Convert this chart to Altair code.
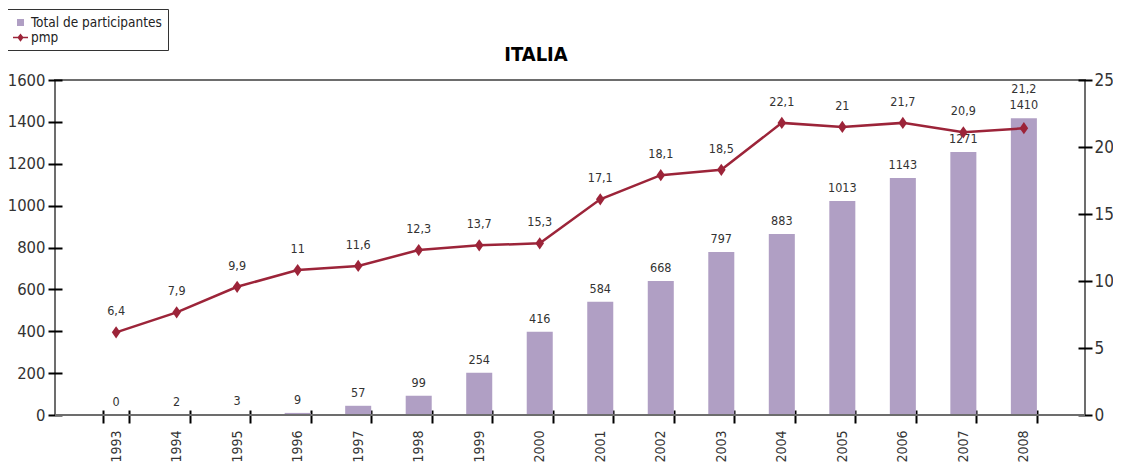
import altair as alt
import pandas as pd

# ---- data ----
years = ["1993", "1994", "1995", "1996", "1997", "1998", "1999", "2000",
         "2001", "2002", "2003", "2004", "2005", "2006", "2007", "2008"]
# bar heights as drawn
total_drawn = [0, 2, 3, 10, 44, 92, 202, 398, 541, 640, 778, 864, 1022, 1132, 1256, 1417]
# bar labels as printed
total_text = ["0", "2", "3", "9", "57", "99", "254", "416", "584", "668", "797",
              "883", "1013", "1143", "1271", "1410"]
# pmp points as drawn (right axis)
pmp_drawn = [6.17, 7.66, 9.57, 10.82, 11.12, 12.31, 12.66, 12.81, 16.1, 17.9,
             18.3, 21.8, 21.5, 21.8, 21.1, 21.4]
# pmp labels as printed
pmp_text = ["6,4", "7,9", "9,9", "11", "11,6", "12,3", "13,7", "15,3", "17,1",
            "18,1", "18,5", "22,1", "21", "21,7", "20,9", "21,2"]

series = ["Total de participantes", "pmp"]

FONT = "DejaVu Sans Condensed"
PURPLE = "#b09fc4"
RED = "#9c2439"
TXT = "#333333"
AXISGRAY = "#6d6d6d"

DIAMOND = "M0,-1L0.7,0L0,1L-0.7,0Z"
SQ = "M-0.47,-0.47H0.47V0.47H-0.47Z"
LD = "M-1,-0.09H1V0.09H-1Z M0,-0.55L0.42,0L0,0.55L-0.42,0Z"

df = pd.DataFrame({
    "anio": years,
    "total": total_drawn,
    "total_txt": total_text,
    "pmp": pmp_drawn,
    "pmp_txt": pmp_text,
})
df["serie"] = series[0]
# keep pmp labels clear of the bar labels
df["pmp_label_y"] = [max(p + 1.57, t * 25 / 1600 + 2.16) for p, t in zip(pmp_drawn, total_drawn)]

base = alt.Chart(df)

x_enc = alt.X(
    "anio:O", title=None, sort=years,
    scale=alt.Scale(paddingInner=0.57, paddingOuter=0.795),
    axis=alt.Axis(labelAngle=-90, tickBand="extent", domain=False,
                  tickColor="black", tickWidth=2, tickSize=13, offset=-5,
                  labelPadding=7, labelFont=FONT, labelFontSize=14,
                  labelColor=TXT),
)
x_plain = alt.X("anio:O", sort=years)

legend = alt.Legend(
    title=None, orient="none", legendX=-48, legendY=-71, padding=6,
    strokeColor="#333333", fillColor="white",
    labelFont=FONT, labelFontSize=13.5, labelColor="#222222",
    symbolSize=225, labelOffset=3, rowPadding=1, symbolStrokeWidth=0,
    symbolType=alt.ExprRef(expr="datum.label === 'pmp' ? '%s' : '%s'" % (LD, SQ)),
)

bars = base.mark_bar().encode(
    x=x_enc,
    y=alt.Y("total:Q", title=None,
            scale=alt.Scale(domain=[0, 1600], nice=False),
            axis=alt.Axis(values=list(range(0, 1601, 200)), format="d", domain=False,
                          grid=False, tickColor="black", tickWidth=2, tickSize=14,
                          offset=-7, labelPadding=3, labelFont=FONT, labelFontSize=16.5,
                          labelColor=TXT)),
    color=alt.Color("serie:N", scale=alt.Scale(domain=series, range=[PURPLE, RED]),
                    legend=legend),
)
zero_rule = base.mark_rule(color=AXISGRAY, strokeWidth=2).encode(y=alt.datum(0))
bar_text = base.mark_text(font=FONT, fontSize=12.5, color=TXT, baseline="middle", dy=-13).encode(
    x=x_plain, y=alt.Y("total:Q"), text="total_txt:N"
)

line = base.mark_line(color=RED, strokeWidth=2.5).encode(
    x=x_plain,
    y=alt.Y("pmp:Q", title=None,
            scale=alt.Scale(domain=[0, 25], nice=False),
            axis=alt.Axis(orient="right", values=[0, 5, 10, 15, 20, 25], domain=False,
                          grid=False, tickColor="black", tickWidth=2, tickSize=14,
                          offset=-7, labelPadding=2, labelFont=FONT, labelFontSize=17,
                          labelColor=TXT)),
)
points = base.mark_point(shape=DIAMOND, filled=True, size=150, color=RED, opacity=1).encode(
    x=x_plain, y=alt.Y("pmp:Q")
)
line_text = base.mark_text(font=FONT, fontSize=12.5, color=TXT, baseline="middle").encode(
    x=x_plain, y=alt.Y("pmp_label_y:Q"), text="pmp_txt:N"
)

bar_group = alt.layer(bars, zero_rule, bar_text)
line_group = alt.layer(line, points, line_text)

chart = alt.layer(bar_group, line_group).resolve_scale(y="independent").properties(
    width=1030, height=335,
    autosize=alt.AutoSizeParams(type="none"),
    padding={"left": 47, "top": 72, "right": 28, "bottom": 48},
    title=alt.Title("ITALIA", font=FONT, fontSize=20, fontWeight="bold", color="black",
                    anchor="middle", frame="group", baseline="alphabetic",
                    dx=-34, offset=-72),
).configure_view(stroke=AXISGRAY, strokeWidth=2)

chart.save("out.html", embed_options={"renderer": "svg", "actions": False})
